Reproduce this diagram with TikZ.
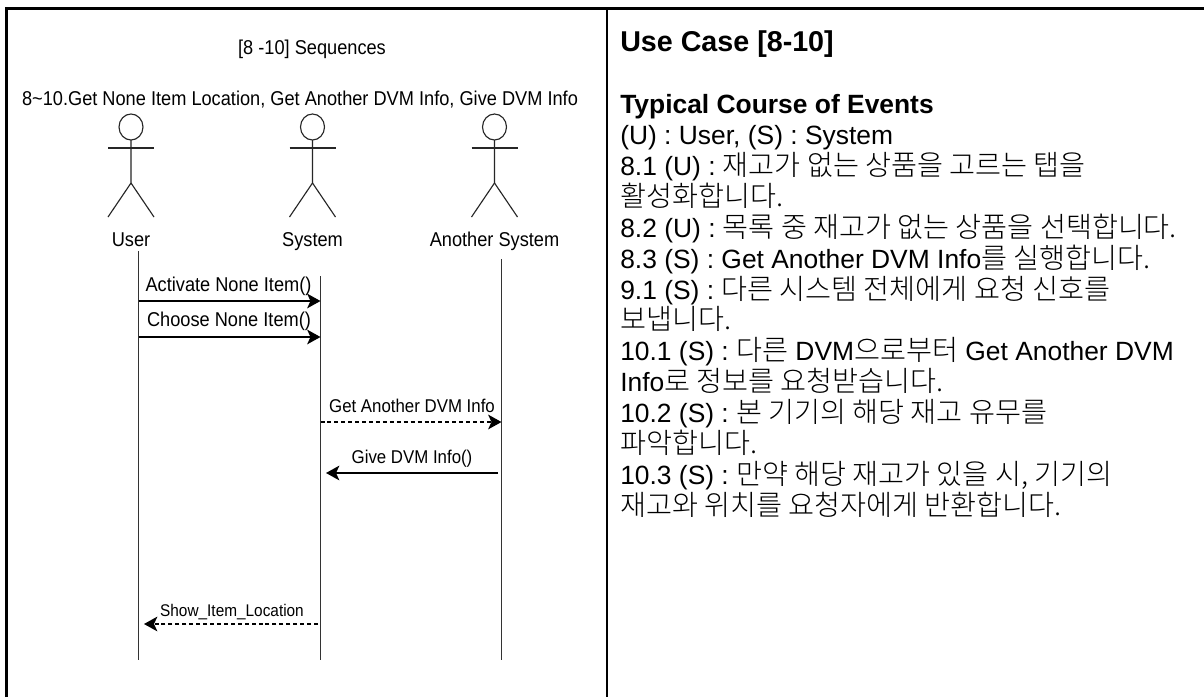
\documentclass[tikz,border=0pt]{standalone}
\usepackage{fontspec}
\setmainfont{Liberation Sans}
\newfontfamily\krfont[Scale=1.07]{Noto Sans CJK KR Light}
\newfontfamily\drawfont[FakeStretch=0.91]{Liberation Sans}
\newcommand{\kr}[1]{{\krfont #1}}
\newcommand{\actorfig}[2]{%
	\draw[actorline] (#1,127) ellipse (12 and 13);
	\draw[actorline] (#1,140) -- (#1,183) -- (#1-23,217);
	\draw[actorline] (#1,183) -- (#1+23,217);
	\draw[actorline] (#1-23,148) -- (#1+23,148);
	\node[seqtext] (#2) at (#1,246.5) {#2};
}
\tikzset{
	seqtext/.style={font=\drawfont\fontsize{15}{18}\selectfont,inner sep=0pt,anchor=base},
	actorline/.style={line width=0.85pt,black!85},
	lifeline/.style={line width=1pt,black!80},
	msg/.style={line width=1.3pt,-{Stealth[length=10pt,width=11pt,inset=2.5pt]}},
	msgdash/.style={msg,dash pattern=on 3pt off 2.2pt}
}
\usetikzlibrary{arrows.meta}
\begin{document}
\begin{tikzpicture}[x=0.75pt,y=-0.75pt]
	\useasboundingbox (0,0) rectangle (1204,697);
	\fill[white] (0,0) rectangle (1204,697);
	% table
	\draw[line width=2pt] (6.5,697) -- (6.5,8.5) -- (1204,8.5);
	\draw[line width=1.8pt] (607,8.5) -- (607,697);
	% left cell
	\node[seqtext] (seqtitle) at (312,54) {[8 -10] Sequences};
	\node[seqtext] (seqname) at (300,105.3) {8\textasciitilde10.Get None Item Location, Get Another DVM Info, Give DVM Info};
	\actorfig{131}{User}
	\actorfig{312.5}{System}
	\actorfig{494.5}{Another System}
	\coordinate (utop) at (138.5,251);
	\coordinate (ubot) at (138.5,660);
	\coordinate (stop) at (320.5,276);
	\coordinate (sbot) at (320.5,660);
	\coordinate (atop) at (501.5,259);
	\coordinate (abot) at (501.5,660);
	\draw[lifeline] (utop) -- (ubot);
	\draw[lifeline] (stop) -- (sbot);
	\draw[lifeline] (atop) -- (abot);
	% messages
	\coordinate (m1a) at (138.5,301);
	\coordinate (m1b) at (320.5,301);
	\coordinate (m2a) at (138.5,337);
	\coordinate (m2b) at (320.5,337);
	\coordinate (m3a) at (320.5,422);
	\coordinate (m3b) at (501.5,422);
	\coordinate (m4a) at (498,473);
	\coordinate (m4b) at (326,473);
	\coordinate (m5a) at (318,624);
	\coordinate (m5b) at (144,624);
	\draw[msg] (m1a) -- (m1b);
	\draw[msg] (m2a) -- (m2b);
	\draw[msgdash] (m3a) -- (m3b);
	\draw[msg] (m4a) -- (m4b);
	\draw[msgdash] (m5a) -- (m5b);
	\node[seqtext] (m1) at (228.5,291.7) {Activate None Item()};
	\node[seqtext] (m2) at (229,326.7) {Choose None Item()};
	\node[seqtext,scale=0.925] (m3) at (412,412) {Get Another DVM Info};
	\node[seqtext,scale=0.925] (m4) at (412,463) {Give DVM Info()};
	\node[seqtext,scale=0.845] (m5) at (232,616.7) {Show\_Item\_Location};
	% right cell
	\node[anchor=north west,inner sep=0pt,align=left,font=\fontsize{19.8}{23.2}\selectfont] (usecase) at (620,30.5) {%
		{\bfseries\fontsize{21.5}{23.2}\selectfont Use Case [8-10]}\\
		\mbox{}\\
		{\bfseries Typical Course of Events}\\
		(U) : User, (S) : System\\
		8.1 (U) : \kr{재고가 없는 상품을 고르는 탭을}\\
		\kr{활성화합니다.}\\
		8.2 (U) : \kr{목록 중 재고가 없는 상품을 선택합니다.}\\
		8.3 (S) : Get Another DVM Info\kr{를 실행합니다.}\\
		9.1 (S) : \kr{다른 시스템 전체에게 요청 신호를}\\
		\kr{보냅니다.}\\
		10.1 (S) : \kr{다른} DVM\kr{으로부터} Get Another DVM\\
		Info\kr{로 정보를 요청받습니다.}\\
		10.2 (S) : \kr{본 기기의 해당 재고 유무를}\\
		\kr{파악합니다.}\\
		10.3 (S) : \kr{만약 해당 재고가 있을 시, 기기의}\\
		\kr{재고와 위치를 요청자에게 반환합니다.}
	};
\end{tikzpicture}
\end{document}
